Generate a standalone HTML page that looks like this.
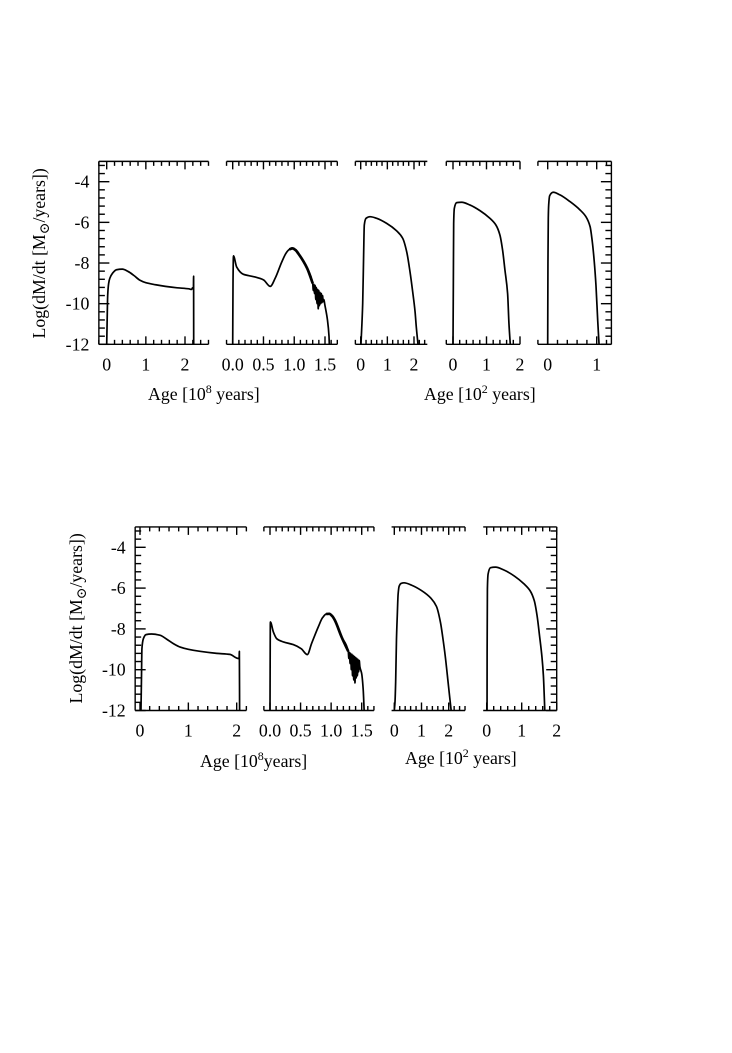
<!DOCTYPE html>
<html>
<head>
<meta charset="utf-8">
<style>
html,body{margin:0;padding:0;background:#fff;}
svg{display:block;}
text{font-family:"Liberation Serif","DejaVu Serif",serif;fill:#000;}
</style>
</head>
<body>
<svg id="fig" xmlns="http://www.w3.org/2000/svg" width="732" height="1053" viewBox="0 0 732 1053">
<rect width="732" height="1053" fill="#fff"/>
<g id="marks"></g>
<text transform="translate(45,338.5) rotate(-90)" font-size="17.8">Log(dM/dt [M<tspan font-size="14" dy="4">&#8857;</tspan><tspan dy="-4">/years])</tspan></text>
<text transform="translate(82,703.5) rotate(-90)" font-size="17.8">Log(dM/dt [M<tspan font-size="14" dy="4">&#8857;</tspan><tspan dy="-4">/years])</tspan></text>
<text x="148" y="400" font-size="17.8">Age [10<tspan font-size="12" dy="-7">8</tspan><tspan dy="7"> years]</tspan></text>
<text x="424" y="400" font-size="17.8">Age [10<tspan font-size="12" dy="-7">2</tspan><tspan dy="7"> years]</tspan></text>
<text x="200" y="767" font-size="17.8">Age [10<tspan font-size="12" dy="-7">8</tspan><tspan dy="7">years]</tspan></text>
<text x="405" y="764" font-size="17.8">Age [10<tspan font-size="12" dy="-7">2</tspan><tspan dy="7"> years]</tspan></text>
</svg>
<script>
// Y axis values shared by all panels
const yTickValues = [-4, -6, -8, -10, -12];
const yTickLabels = ["-4", "-6", "-8", "-10", "-12"];

// Top row, panel 1
const t1Age  = [0, 0.01, 0.025, 0.05, 0.08, 0.15, 0.25, 0.4, 0.55, 0.7, 0.85, 1.0, 1.25, 1.5, 1.8, 2.1, 2.17, 2.19, 2.215, 2.22, 2.222];
const t1Rate = [-12, -11, -9.6, -9, -8.75, -8.5, -8.33, -8.3, -8.42, -8.62, -8.85, -8.97, -9.07, -9.15, -9.22, -9.27, -9.3, -9.22, -9.25, -8.65, -12];
// Top row, panel 2
const t2Age  = [0, 0.005, 0.012, 0.065, 0.17, 0.34, 0.5, 0.61, 0.69, 0.8, 0.87, 0.92, 0.97, 1.02, 1.07, 1.21, 1.30, 1.31, 1.32, 1.33, 1.34, 1.35, 1.36, 1.37, 1.38, 1.39, 1.40, 1.41, 1.42, 1.43, 1.44, 1.45, 1.46, 1.47, 1.48, 1.5, 1.54, 1.565, 1.57];
const t2Rate = [-12, -9, -7.65, -8.2, -8.55, -8.67, -8.83, -9.15, -8.75, -7.93, -7.5, -7.33, -7.28, -7.36, -7.55, -8.26, -9.0, -9.35, -9.05, -9.5, -9.1, -9.8, -9.2, -10.0, -9.3, -10.25, -9.35, -10.1, -9.45, -10.0, -9.5, -9.95, -9.6, -9.9, -9.8, -10.1, -10.8, -11.6, -12];
// Top row, panel 3
const t3Age  = [0.01, 0.075, 0.11, 0.135, 0.2, 0.35, 0.6, 0.975, 1.35, 1.575, 1.725, 1.85, 1.95, 2.04, 2.085, 2.15];
const t3Rate = [-12, -9.98, -7.6, -6.13, -5.8, -5.72, -5.8, -6.05, -6.42, -6.78, -7.44, -8.43, -9.41, -10.4, -11.13, -12];
// Top row, panel 4
const t4Age  = [0, 0.01, 0.02, 0.04, 0.11, 0.26, 0.51, 0.81, 1.1, 1.28, 1.4, 1.48, 1.55, 1.63, 1.67, 1.71];
const t4Rate = [-12, -9.16, -6.05, -5.31, -5.03, -5.01, -5.15, -5.43, -5.8, -6.13, -6.62, -7.36, -8.34, -9.5, -10.97, -12];
// Top row, panel 5
const t5Age  = [0, 0.005, 0.012, 0.02, 0.04, 0.115, 0.25, 0.455, 0.66, 0.78, 0.865, 0.91, 0.95, 0.985, 1.02, 1.048];
const t5Rate = [-12, -8, -5.8, -5.15, -4.69, -4.52, -4.65, -4.98, -5.39, -5.72, -6.21, -6.95, -7.93, -9.1, -10.8, -12];
// Bottom row, panel 1
const b1Age  = [0.02, 0.03, 0.04, 0.07, 0.124, 0.24, 0.41, 0.55, 0.69, 0.83, 1.0, 1.24, 1.59, 1.86, 2.0, 2.05, 2.055, 2.06];
const b1Rate = [-12, -10.5, -8.97, -8.48, -8.28, -8.25, -8.31, -8.5, -8.72, -8.89, -9.0, -9.1, -9.2, -9.25, -9.43, -9.46, -9.1, -12];
// Bottom row, panel 2
const b2Age  = [0, 0.006, 0.055, 0.11, 0.22, 0.38, 0.51, 0.61, 0.68, 0.79, 0.86, 0.92, 0.97, 1.02, 1.06, 1.17, 1.28, 1.29, 1.3, 1.31, 1.32, 1.33, 1.34, 1.35, 1.36, 1.37, 1.38, 1.39, 1.40, 1.41, 1.42, 1.43, 1.44, 1.45, 1.46, 1.47, 1.5, 1.525, 1.54];
const b2Rate = [-12, -7.66, -8.15, -8.48, -8.64, -8.77, -8.97, -9.26, -8.72, -7.9, -7.45, -7.27, -7.26, -7.38, -7.57, -8.39, -9.1, -9.45, -9.15, -9.7, -9.2, -10.0, -9.25, -10.3, -9.3, -10.5, -9.35, -10.65, -9.4, -10.4, -9.45, -10.3, -9.5, -10.1, -9.55, -9.85, -10.2, -11.0, -12];
// Bottom row, panel 3
const b3Age  = [0, 0.025, 0.05, 0.08, 0.11, 0.14, 0.18, 0.25, 0.36, 0.64, 1.0, 1.35, 1.55, 1.7, 1.78, 1.87, 1.99, 2.09];
const b3Rate = [-12, -11.6, -10.6, -8.5, -7.33, -6.3, -5.9, -5.77, -5.74, -5.86, -6.12, -6.5, -6.9, -7.7, -8.4, -9.3, -10.77, -12];
// Bottom row, panel 4
const b4Age  = [0.01, 0.012, 0.02, 0.04, 0.11, 0.25, 0.5, 0.8, 1.07, 1.24, 1.36, 1.44, 1.51, 1.58, 1.62, 1.66];
const b4Rate = [-12, -9.16, -6.05, -5.31, -5, -4.97, -5.12, -5.42, -5.8, -6.13, -6.62, -7.36, -8.34, -9.4, -10.3, -12];

// X tick label text per panel
const t1Labels = ["0", "1", "2"];
const t2Labels = ["0.0", "0.5", "1.0", "1.5"];
const t3Labels = ["0", "1", "2"];
const t4Labels = ["0", "1", "2"];
const t5Labels = ["0", "1"];
const b1Labels = ["0", "1", "2"];
const b2Labels = ["0.0", "0.5", "1.0", "1.5"];
const b3Labels = ["0", "1", "2"];
const b4Labels = ["0", "1", "2"];

const NS = 'http://www.w3.org/2000/svg';
const root = document.getElementById('marks');

function mk(tag, attrs, parent) {
  const el = document.createElementNS(NS, tag);
  for (const k in attrs) el.setAttribute(k, attrs[k]);
  parent.appendChild(el);
  return el;
}

function drawLine(parent, x1, y1, x2, y2, name, w) {
  const l = mk('line', {x1: x1, y1: y1, x2: x2, y2: y2, stroke: '#000', 'stroke-width': w || 1.4}, parent);
  
  
  return l;
}

// Monotone cubic path through the mapped data points
function smoothPath(xs, ys) {
  const n = xs.length;
  const d = [], m = [];
  for (let i = 0; i < n - 1; i++) d[i] = (ys[i + 1] - ys[i]) / (xs[i + 1] - xs[i]);
  m[0] = d[0];
  m[n - 1] = d[n - 2];
  for (let i = 1; i < n - 1; i++) {
    if (d[i - 1] * d[i] <= 0) m[i] = 0;
    else {
      const h0 = xs[i] - xs[i - 1], h1 = xs[i + 1] - xs[i];
      const w1 = 2 * h1 + h0, w2 = h1 + 2 * h0;
      m[i] = (w1 + w2) / (w1 / d[i - 1] + w2 / d[i]);
    }
  }
  let s = 'M' + xs[0].toFixed(2) + ' ' + ys[0].toFixed(2);
  for (let i = 0; i < n - 1; i++) {
    const h = (xs[i + 1] - xs[i]) / 3;
    s += 'C' + (xs[i] + h).toFixed(2) + ' ' + (ys[i] + m[i] * h).toFixed(2) + ' ' +
         (xs[i + 1] - h).toFixed(2) + ' ' + (ys[i + 1] - m[i + 1] * h).toFixed(2) + ' ' +
         xs[i + 1].toFixed(2) + ' ' + ys[i + 1].toFixed(2);
  }
  return s;
}

function drawPanel(p) {
  const g = mk('g', {}, root);
  
  

  const pxPerX = (p.x1Px - p.x0Px) / (p.x1Val - p.x0Val);
  const xScale = v => p.zeroPx + v * pxPerX;
  const yScale = v => p.yAtM4 + (-4 - v) * p.pxPerY;
  const top = yScale(-3), bottom = yScale(-12);
  const left = xScale(p.xMin), right = xScale(p.xMax);

  drawLine(g, left, top, right, top, p.id + '-top-axis');
  drawLine(g, left, bottom, right, bottom, p.id + '-bottom-axis');

  const firstTick = Math.ceil(p.xMin / p.minor - 1e-6);
  const lastTick = Math.floor(p.xMax / p.minor + 1e-6);
  for (let i = firstTick; i <= lastTick; i++) {
    const v = i * p.minor;
    const q = v / p.major;
    const isMajor = Math.abs(q - Math.round(q)) < 1e-6 && v <= p.majorMax + 1e-6 && v > -1e-6;
    const len = isMajor ? 8 : 4.5;
    const x = xScale(v);
    drawLine(g, x, top, x, top + len, p.id + '-top-tick');
    drawLine(g, x, bottom, x, bottom - len, p.id + '-bottom-tick');
  }

  p.labels.forEach(function (txt, i) {
    const t = mk('text', {x: xScale(i * p.major), y: bottom + 26, 'font-size': 17.8, 'text-anchor': 'middle'}, g);
    
    
    t.textContent = txt;
  });

  function yTicks(x, dir, name) {
    drawLine(g, x, top, x, bottom, p.id + '-' + name + '-axis');
    for (let i = 0; i <= 22; i++) {
      const v = -3.2 - i * 0.4;
      const isMajor = i >= 2 && (i - 2) % 5 === 0;
      const y = yScale(v);
      drawLine(g, x, y, x + dir * (isMajor ? 10.5 : 6), y, p.id + '-' + name + '-tick');
    }
  }
  if (p.leftAxis) {
    yTicks(left, 1, 'left');
    yTickValues.forEach(function (v, i) {
      const t = mk('text', {x: left - 9.5, y: yScale(v) + 6, 'font-size': 17.8, 'text-anchor': 'end'}, g);
      
      
      t.textContent = yTickLabels[i];
    });
  }
  if (p.rightAxis) yTicks(right, -1, 'right');

  const line = mk('path', {d: smoothPath(p.age.map(xScale), p.rate.map(yScale)), fill: 'none', stroke: '#000', 'stroke-width': 1.7, 'stroke-linejoin': 'round'}, g);
  
  

  // Thickened stretch where the model oscillates at small amplitude
  if (p.thickFrom !== undefined) {
    const idx = p.age.map((a, i) => i).filter(i => p.age[i] >= p.thickFrom && p.age[i] <= p.thickTo);
    const thick = mk('path', {d: smoothPath(idx.map(i => xScale(p.age[i])), idx.map(i => yScale(p.rate[i]))), fill: 'none', stroke: '#000', 'stroke-width': 2.7}, g);
    
    
  }
}

const TOP = {yAtM4: 181.7, pxPerY: 20.33};
const BOT = {yAtM4: 547.3, pxPerY: 20.4};

[
  Object.assign({id: 'top-1', age: t1Age, rate: t1Rate, labels: t1Labels, zeroPx: 106.7, x0Px: 106.7, x1Px: 185, x0Val: 0, x1Val: 2, xMin: -0.2, xMax: 2.6, minor: 0.2, major: 1, majorMax: 2, leftAxis: true}, TOP),
  Object.assign({id: 'top-2', age: t2Age, rate: t2Rate, labels: t2Labels, zeroPx: 232.7, x0Px: 232.7, x1Px: 325, x0Val: 0, x1Val: 1.5, xMin: -0.1, xMax: 1.7, minor: 0.1, major: 0.5, majorMax: 1.5, thickFrom: 0.9, thickTo: 1.3}, TOP),
  Object.assign({id: 'top-3', age: t3Age, rate: t3Rate, labels: t3Labels, zeroPx: 360.7, x0Px: 360.7, x1Px: 414, x0Val: 0, x1Val: 2, xMin: -0.2, xMax: 2.5, minor: 0.2, major: 1, majorMax: 2}, TOP),
  Object.assign({id: 'top-4', age: t4Age, rate: t4Rate, labels: t4Labels, zeroPx: 453, x0Px: 453, x1Px: 520, x0Val: 0, x1Val: 2, xMin: -0.2, xMax: 2, minor: 0.2, major: 1, majorMax: 2}, TOP),
  Object.assign({id: 'top-5', age: t5Age, rate: t5Rate, labels: t5Labels, zeroPx: 547.7, x0Px: 547.7, x1Px: 596.7, x0Val: 0, x1Val: 1, xMin: -0.2, xMax: 1.3, minor: 0.2, major: 1, majorMax: 1, rightAxis: true}, TOP),
  Object.assign({id: 'bottom-1', age: b1Age, rate: b1Rate, labels: b1Labels, zeroPx: 140, x0Px: 140, x1Px: 236.7, x0Val: 0, x1Val: 2, xMin: -0.1, xMax: 2.2, minor: 0.2, major: 1, majorMax: 2, leftAxis: true}, BOT),
  Object.assign({id: 'bottom-2', age: b2Age, rate: b2Rate, labels: b2Labels, zeroPx: 270, x0Px: 270, x1Px: 361.7, x0Val: 0, x1Val: 1.5, xMin: -0.1, xMax: 1.7, minor: 0.1, major: 0.5, majorMax: 1.5, thickFrom: 0.9, thickTo: 1.28}, BOT),
  Object.assign({id: 'bottom-3', age: b3Age, rate: b3Rate, labels: b3Labels, zeroPx: 394.3, x0Px: 394.3, x1Px: 448.7, x0Val: 0, x1Val: 2, xMin: -0.1, xMax: 2.6, minor: 0.2, major: 1, majorMax: 2}, BOT),
  Object.assign({id: 'bottom-4', age: b4Age, rate: b4Rate, labels: b4Labels, zeroPx: 486.7, x0Px: 486.7, x1Px: 556.7, x0Val: 0, x1Val: 2, xMin: -0.1, xMax: 2, minor: 0.2, major: 1, majorMax: 2, rightAxis: true}, BOT)
].forEach(drawPanel);
</script>
</body>
</html>
